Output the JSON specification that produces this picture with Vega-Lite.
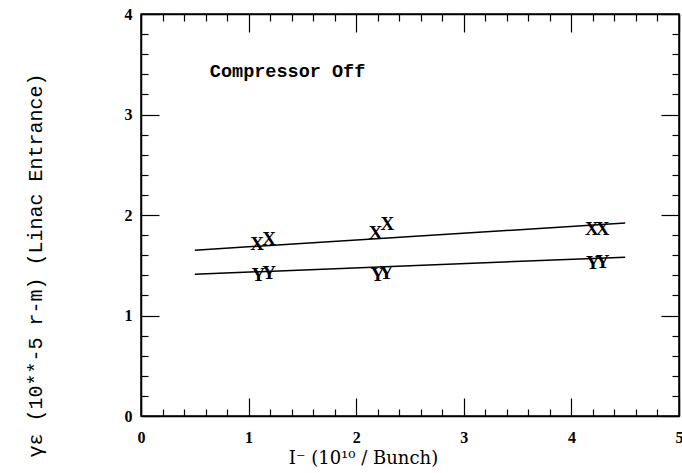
{
  "$schema": "https://vega.github.io/schema/vega-lite/v6.json",
  "width": 538,
  "height": 402,
  "autosize": {"type": "none"},
  "padding": {"left": 141, "top": 14, "right": 3, "bottom": 57},
  "background": "white",
  "config": {
    "view": {"stroke": "black", "strokeWidth": 1.5},
    "axis": {
      "domainColor": "black",
      "domainWidth": 1.5,
      "tickColor": "black",
      "tickWidth": 1.2,
      "grid": false,
      "labelFont": "Liberation Serif",
      "labelFontWeight": "bold",
      "labelFontSize": 16,
      "labelColor": "black",
      "titleColor": "black"
    }
  },
  "datasets": {
    "lines": [
      {"series": "X", "x": 0.5, "y": 1.65},
      {"series": "X", "x": 4.5, "y": 1.92},
      {"series": "Y", "x": 0.5, "y": 1.41},
      {"series": "Y", "x": 4.5, "y": 1.58}
    ],
    "pts": [
      {"label": "X", "x": 1.08, "y": 1.71},
      {"label": "X", "x": 1.19, "y": 1.76},
      {"label": "X", "x": 2.18, "y": 1.82},
      {"label": "X", "x": 2.29, "y": 1.91},
      {"label": "X", "x": 4.19, "y": 1.86},
      {"label": "X", "x": 4.29, "y": 1.86},
      {"label": "Y", "x": 1.09, "y": 1.40},
      {"label": "Y", "x": 1.19, "y": 1.42},
      {"label": "Y", "x": 2.20, "y": 1.40},
      {"label": "Y", "x": 2.28, "y": 1.42},
      {"label": "Y", "x": 4.20, "y": 1.52},
      {"label": "Y", "x": 4.29, "y": 1.53}
    ],
    "note": [
      {"label": "Compressor Off", "x": 0.64, "y": 3.43}
    ]
  },
  "resolve": {"axis": {"x": "independent", "y": "independent"}},
  "layer": [
    {
      "data": {"name": "lines"},
      "mark": {"type": "line", "color": "black", "strokeWidth": 1.5},
      "encoding": {
        "x": {
          "field": "x", "type": "quantitative",
          "scale": {"domain": [0, 5], "nice": false, "zero": false},
          "axis": {
            "orient": "bottom",
            "values": [0,0.2,0.4,0.6,0.8,1,1.2,1.4,1.6,1.8,2,2.2,2.4,2.6,2.8,3,3.2,3.4,3.6,3.8,4,4.2,4.4,4.6,4.8,5],
            "labelExpr": "datum.value % 1 === 0 ? format(datum.value, 'd') : ''",
            "tickSize": {"condition": {"test": "datum.value % 1 === 0", "value": -18}, "value": -7},
            "labelPadding": 39,
            "labelBaseline": "middle",
            "labelFlush": false,
            "labelOverlap": false,
            "title": "I⁻ (10¹⁰ / Bunch)",
            "titleFont": "DejaVu Serif",
            "titleFontWeight": "normal",
            "titleFontSize": 18,
            "titleX": 222,
            "titleY": 42,
            "titleAlign": "center",
            "titleBaseline": "middle"
          }
        },
        "y": {
          "field": "y", "type": "quantitative",
          "scale": {"domain": [0, 4], "nice": false, "zero": false},
          "axis": {
            "orient": "left",
            "values": [0,0.2,0.4,0.6,0.8,1,1.2,1.4,1.6,1.8,2,2.2,2.4,2.6,2.8,3,3.2,3.4,3.6,3.8,4],
            "labelExpr": "datum.value % 1 === 0 ? format(datum.value, 'd') : ''",
            "tickSize": {"condition": {"test": "datum.value % 1 === 0", "value": -18}, "value": -7},
            "labelPadding": 27,
            "labelFlush": false,
            "labelOverlap": false,
            "title": "γε   (10**-5 r-m) (Linac Entrance)",
            "titleFont": "Liberation Mono",
            "titleFontWeight": "normal",
            "titleFontSize": 20,
            "titleX": -106,
            "titleY": 251,
            "titleAlign": "center",
            "titleAngle": 270,
            "titleBaseline": "middle"
          }
        },
        "detail": {"field": "series"}
      }
    },
    {
      "data": {"name": "pts"},
      "mark": {"type": "text", "font": "Liberation Serif", "fontWeight": "bold", "fontSize": 19, "color": "black", "align": "center", "baseline": "middle"},
      "encoding": {
        "x": {
          "field": "x", "type": "quantitative",
          "axis": {
            "orient": "top",
            "values": [0,0.2,0.4,0.6,0.8,1,1.2,1.4,1.6,1.8,2,2.2,2.4,2.6,2.8,3,3.2,3.4,3.6,3.8,4,4.2,4.4,4.6,4.8,5],
            "labels": false,
            "title": null,
            "tickSize": {"condition": {"test": "datum.value % 1 === 0", "value": -18}, "value": -7}
          }
        },
        "y": {
          "field": "y", "type": "quantitative",
          "axis": {
            "orient": "right",
            "values": [0,0.2,0.4,0.6,0.8,1,1.2,1.4,1.6,1.8,2,2.2,2.4,2.6,2.8,3,3.2,3.4,3.6,3.8,4],
            "labels": false,
            "title": null,
            "tickSize": {"condition": {"test": "datum.value % 1 === 0", "value": -18}, "value": -7}
          }
        },
        "text": {"field": "label"}
      }
    },
    {
      "data": {"name": "note"},
      "mark": {"type": "text", "font": "Liberation Mono", "fontWeight": "bold", "fontSize": 18.5, "color": "black", "align": "left", "baseline": "middle"},
      "encoding": {
        "x": {"field": "x", "type": "quantitative", "axis": null},
        "y": {"field": "y", "type": "quantitative", "axis": null},
        "text": {"field": "label"}
      }
    }
  ]
}
